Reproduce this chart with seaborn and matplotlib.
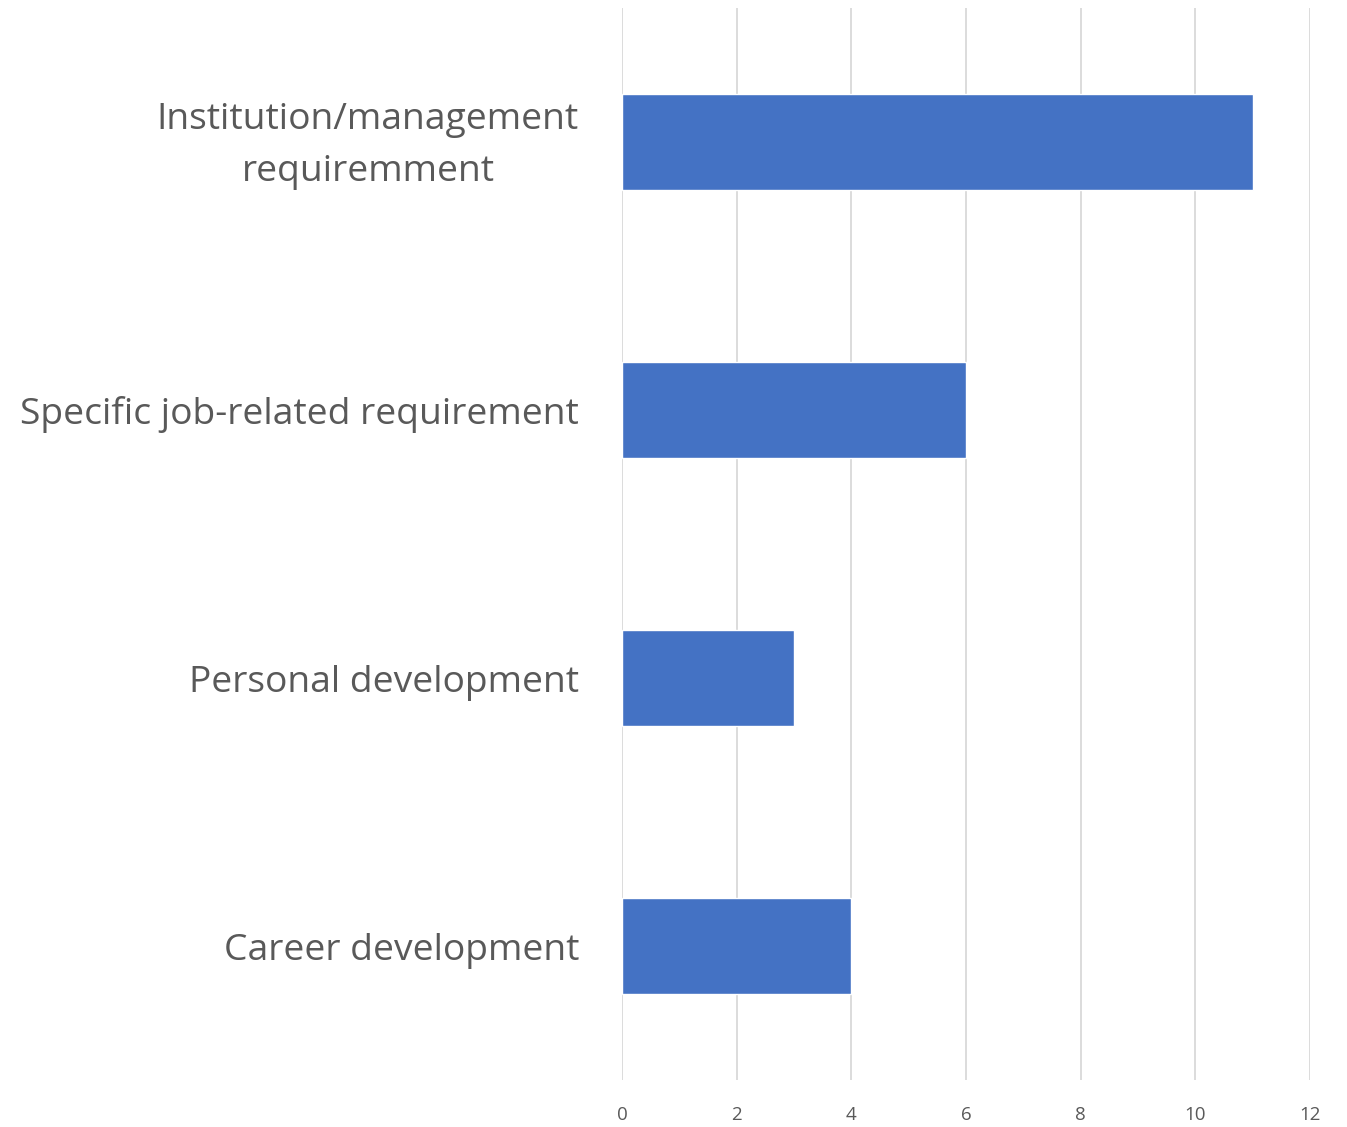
import matplotlib
matplotlib.use("Agg")
import matplotlib.pyplot as plt
import matplotlib.transforms as mtransforms
import seaborn as sns
import pandas as pd

# Motivos de formación
categorias = [
    "Institution/management\nrequiremment",
    "Specific job-related requirement",
    "Personal development",
    "Career development",
]
valores = [11, 6, 3, 4]
ticks_x = [0, 2, 4, 6, 8, 10, 12]

df = pd.DataFrame({"categoria": categorias, "valor": valores})

sns.set_style("white")
plt.rcParams["font.family"] = ["Open Sans", "DejaVu Sans"]

fig = plt.figure(figsize=(13.47, 11.27), dpi=100)
ax = fig.add_axes([0.4618, 0.0417, 0.5108, 0.9512])

sns.barplot(data=df, x="valor", y="categoria", color="#4472C4",
            width=0.356, saturation=1, ax=ax, zorder=3)

ax.set_xlim(0, 12)
ax.set_ylim(3.5, -0.5)
ax.set_xticks(ticks_x)
ax.xaxis.grid(True, color="#D9D9D9", linewidth=1.3, zorder=0)
ax.set_axisbelow(True)
for s in ax.spines.values():
    s.set_visible(False)
ax.set_xlabel(""); ax.set_ylabel("")
ax.tick_params(axis="x", length=0, pad=19, labelsize=13.5, labelcolor="#595959")
ax.tick_params(axis="y", length=0, pad=31, labelsize=26.8, labelcolor="#595959")
for lbl in ax.get_yticklabels():
    lbl.set_horizontalalignment("right")
    lbl.set_multialignment("center")
    lbl.set_linespacing(1.6)

# la etiqueta de dos líneas queda un poco más arriba en el original
lbl0 = ax.get_yticklabels()[0]
lbl0.set_transform(lbl0.get_transform() +
                   mtransforms.ScaledTranslation(0, 9 / 100, fig.dpi_scale_trans))

fig.savefig("out.png", dpi=100, facecolor="white")
